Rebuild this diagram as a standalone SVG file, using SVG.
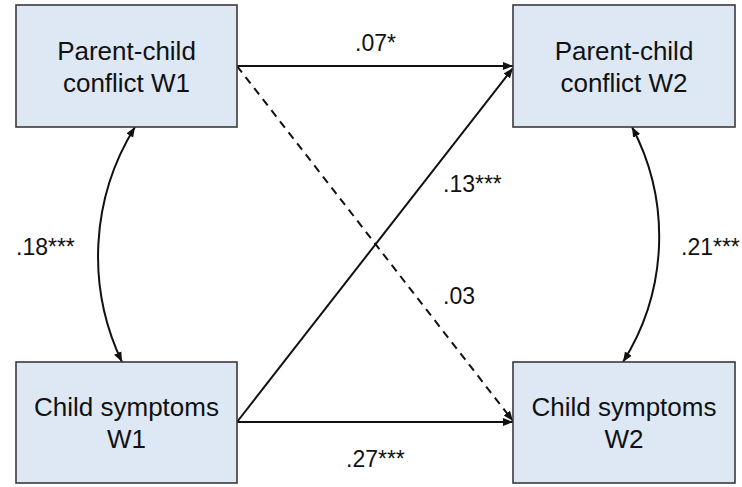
<svg xmlns="http://www.w3.org/2000/svg" width="742" height="487" viewBox="0 0 742 487">
<style>
.box{fill:#dee8f5;stroke:#3a3a3a;stroke-width:1.6}
.t{font-family:"Liberation Sans",Arial,sans-serif;font-size:26px;fill:#111;text-anchor:middle}
.l{font-family:"Liberation Sans",Arial,sans-serif;font-size:23px;fill:#111}
.c{fill:none;stroke:#111;stroke-width:2}
.d{stroke-dasharray:8 6}
</style>
<defs>
<marker id="ah" viewBox="0 0 10 10" refX="10" refY="5" markerWidth="10" markerHeight="10" markerUnits="userSpaceOnUse" orient="auto-start-reverse">
<path d="M0,1 L10,5 L0,9 Z" fill="#111"/>
</marker>
</defs>
<rect width="742" height="487" fill="#fff"/>
<g id="connectors">
<line class="c" x1="237" y1="66" x2="513" y2="66" marker-end="url(#ah)"/>
<line class="c" x1="237" y1="422" x2="513" y2="422" marker-end="url(#ah)"/>
<line class="c" x1="237" y1="422" x2="513" y2="68" marker-end="url(#ah)"/>
<line class="c d" x1="237" y1="66" x2="513" y2="421" marker-end="url(#ah)"/>
<path class="c" d="M135,127 A245,245 0 0 0 122,362" marker-start="url(#ah)" marker-end="url(#ah)"/>
<path class="c" d="M632,127 A235,235 0 0 1 623,362" marker-start="url(#ah)" marker-end="url(#ah)"/>
<text class="l" x="355" y="51">.07*</text>
<text class="l" x="443" y="192">.13***</text>
<text class="l" x="443" y="304">.03</text>
<text class="l" x="346" y="467">.27***</text>
<text class="l" x="16" y="255">.18***</text>
<text class="l" x="681" y="255">.21***</text>
</g>
<g id="pcc-w1">
<rect class="box" x="16" y="5" width="221" height="122"/>
<text class="t" x="126.5" y="60">Parent-child</text>
<text class="t" x="126.5" y="92">conflict W1</text>
</g>
<g id="pcc-w2">
<rect class="box" x="513" y="5" width="222" height="122"/>
<text class="t" x="624" y="60">Parent-child</text>
<text class="t" x="624" y="92">conflict W2</text>
</g>
<g id="cs-w1">
<rect class="box" x="16" y="362" width="221" height="121"/>
<text class="t" x="126.5" y="416">Child symptoms</text>
<text class="t" x="126.5" y="448">W1</text>
</g>
<g id="cs-w2">
<rect class="box" x="513" y="362" width="222" height="121"/>
<text class="t" x="624" y="416">Child symptoms</text>
<text class="t" x="624" y="448">W2</text>
</g>
</svg>
